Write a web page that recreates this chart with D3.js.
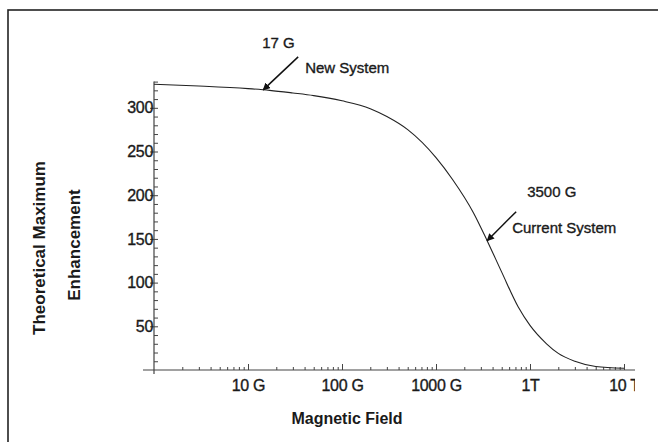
<!DOCTYPE html>
<html>
<head>
<meta charset="utf-8">
<script src="https://cdn.jsdelivr.net/npm/d3@7"></script>
<style>
  body { margin: 0; background: #fff; }
  svg { display: block; }
  text { font-family: "Liberation Sans", Arial, Helvetica, sans-serif; fill: #1a1a1a; }
  .heavy { stroke: #1a1a1a; stroke-width: 0.35px; }
</style>
</head>
<body>
<svg id="chart"></svg>
<script>
// field in gauss, enhancement
var fieldGauss = [1, 3, 10, 17, 30, 50, 100, 200, 300, 500, 1000, 1500, 2500, 3500, 5000, 7500, 10000, 15000, 20000, 30000, 50000, 100000];
var enhancement = [327, 325, 322, 320, 317, 314, 308, 299, 290, 275, 243, 218, 180, 148, 112, 72, 51, 30, 19, 10, 4, 2];

var xTickValues = [10, 100, 1000, 10000, 100000];
var xTickLabels = ["10 G", "100 G", "1000 G", "1T", "10 T"];
var yTickValues = [50, 100, 150, 200, 250, 300];

// where the arrows land on the curve
var noteFields = [14.5, 3500];
var noteValues = [320.5, 148];
var noteTop = ["17 G", "3500 G"];
var noteBottom = ["New System", "Current System"];

var width = 658;
var height = 442;

var svg = d3.select("#chart")
            .attr("width", width)
            .attr("height", height);

// frame round the figure
svg.append("rect")
   .attr("x", 8).attr("y", 10)
   .attr("width", 700).attr("height", 500)
   .attr("fill", "none")
   .attr("stroke", "#222")
   .attr("stroke-width", 1.6);

var x = d3.scaleLog().domain([1, 100000]).range([154, 624]);
var y = d3.scaleLinear().domain([0, 330]).range([370, 81.6]);

var defs = svg.append("defs");
defs.append("clipPath").attr("id", "labelClip")
    .append("rect").attr("x", 0).attr("y", -50).attr("width", 635).attr("height", 100);
defs.append("marker")
    .attr("id", "arrow")
    .attr("viewBox", "0 0 10 10")
    .attr("refX", 9).attr("refY", 5)
    .attr("markerWidth", 5).attr("markerHeight", 5)
    .attr("orient", "auto")
    .append("path")
    .attr("d", "M0,0 L10,5 L0,10 z")
    .attr("fill", "#111");

// minor ticks for log axis
var minorX = [];
for (var dec = 1; dec < 100000; dec *= 10) {
  for (var m = 2; m <= 9; m++) minorX.push(dec * m);
}
var minorY = d3.range(10, 331, 10);

var axisColor = "#444";

// x axis line
svg.append("line")
   .attr("x1", x.range()[0] - 11).attr("x2", x.range()[1] + 11)
   .attr("y1", y(0)).attr("y2", y(0))
   .attr("stroke", axisColor).attr("stroke-width", 1.2);
// y axis line
svg.append("line")
   .attr("x1", x(1)).attr("x2", x(1))
   .attr("y1", y(330)).attr("y2", y(0) + 4)
   .attr("stroke", axisColor).attr("stroke-width", 1.2);

svg.append("g")
   .attr("transform", "translate(0," + y(0) + ")")
   .call(d3.axisBottom(x).tickValues(minorX).tickSize(-3).tickFormat(""));

var xMajorAxis = svg.append("g")
   .attr("transform", "translate(0," + y(0) + ")")
   .attr("clip-path", "url(#labelClip)")
   .call(d3.axisBottom(x).tickValues(xTickValues).tickSize(-6).tickPadding(10)
     .tickFormat(function(d, i) { return xTickLabels[i]; }));
xMajorAxis.selectAll("text")
   .attr("class", "heavy")
   .style("font-size", "16px")
   .style("letter-spacing", "-0.3px");

svg.append("g")
   .attr("transform", "translate(" + x(1) + ",0)")
   .call(d3.axisLeft(y).tickValues(minorY).tickSize(-4).tickFormat(""));

var yMajorAxis = svg.append("g")
   .attr("transform", "translate(" + x(1) + ",0)")
   .call(d3.axisLeft(y).tickValues(yTickValues).tickSize(4).tickPadding(-3));
yMajorAxis.selectAll("text")
   .attr("class", "heavy")
   .style("font-size", "16px")
   .style("letter-spacing", "-0.3px");

svg.selectAll(".domain").remove();
svg.selectAll(".tick line").attr("stroke", axisColor).attr("stroke-width", 1);

// curve
var line = d3.line()
   .x(function(d, i) { return x(fieldGauss[i]); })
   .y(function(d) { return y(d); })
   .curve(d3.curveMonotoneX);

svg.append("path")
   .datum(enhancement)
   .attr("d", line)
   .attr("fill", "none")
   .attr("stroke", "#222")
   .attr("stroke-width", 1.1);

// annotations
var arrowStart = [[35, -33], [29, -29]];
var topPos = [[-1, -42], [40, -44]];
var bottomPos = [[42, -17], [25, -8]];

noteFields.forEach(function(f, i) {
  var px = x(f), py = y(noteValues[i]);
  svg.append("line")
     .attr("x1", px + arrowStart[i][0]).attr("y1", py + arrowStart[i][1])
     .attr("x2", px).attr("y2", py)
     .attr("stroke", "#111").attr("stroke-width", 1.5)
     .attr("marker-end", "url(#arrow)");
  svg.append("text")
     .attr("class", "heavy")
     .attr("x", px + topPos[i][0]).attr("y", py + topPos[i][1])
     .style("font-size", "15px")
     .text(noteTop[i]);
  svg.append("text")
     .attr("class", "heavy")
     .attr("x", px + bottomPos[i][0]).attr("y", py + bottomPos[i][1])
     .style("font-size", "15px")
     .text(noteBottom[i]);
});

// axis titles
svg.append("text")
   .attr("x", 347).attr("y", 424)
   .attr("text-anchor", "middle")
   .style("font-size", "16px")
   .style("font-weight", "bold")
   .text("Magnetic Field");

svg.append("text")
   .attr("transform", "translate(45,248) rotate(-90)")
   .attr("text-anchor", "middle")
   .style("font-size", "17px")
   .style("font-weight", "bold")
   .text("Theoretical Maximum");

svg.append("text")
   .attr("transform", "translate(80,245) rotate(-90)")
   .attr("text-anchor", "middle")
   .style("font-size", "17px")
   .style("font-weight", "bold")
   .text("Enhancement");
</script>
</body>
</html>
